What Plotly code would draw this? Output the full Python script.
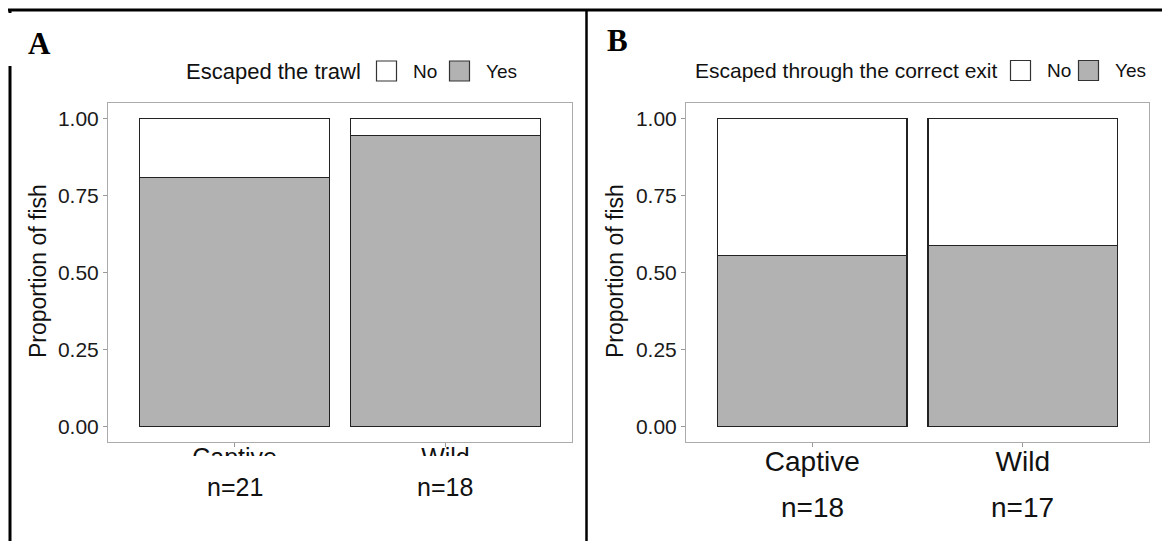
import plotly.graph_objects as go

# Stacked proportion bars: fish that escaped (Yes) / did not (No), by origin
groups = ["Captive", "Wild"]

# Panel A: escaped the trawl
trawl_yes = [17, 17]
trawl_n = [21, 18]

# Panel B: escaped through the correct exit
exit_yes = [10, 10]
exit_n = [18, 17]

y_ticks = [0.0, 0.25, 0.5, 0.75, 1.0]

W, H = 1162, 541
FONT = "Liberation Sans, Arial, sans-serif"
SERIF = "Liberation Serif, Times New Roman, serif"
YES_FILL = "#b2b2b2"
NO_FILL = "#ffffff"
EDGE = "#222222"
FRAME = "#ababab"


def px(x):
    return x / W


def py(y):
    return 1 - y / H


def split(yes, n):
    share_yes = [a / b for a, b in zip(yes, n)]
    share_no = [(b - a) / b for a, b in zip(yes, n)]
    return share_yes, share_no


fig = go.Figure()

panels = [
    ("x", "y", trawl_yes, trawl_n),
    ("x2", "y2", exit_yes, exit_n),
]
for xa, ya, yes, n in panels:
    share_yes, share_no = split(yes, n)
    fig.add_trace(go.Bar(x=groups, y=share_yes, name="Yes", width=0.9,
                         marker=dict(color=YES_FILL, line=dict(color=EDGE, width=1.2)),
                         xaxis=xa, yaxis=ya, showlegend=False))
    fig.add_trace(go.Bar(x=groups, y=share_no, name="No", width=0.9,
                         marker=dict(color=NO_FILL, line=dict(color=EDGE, width=1.2)),
                         xaxis=xa, yaxis=ya, showlegend=False))

plot_top, plot_bottom = 103, 442

common_x = dict(type="category", categoryorder="array", categoryarray=groups,
                range=[-0.6, 1.6], showline=True, mirror=True, linecolor=FRAME,
                linewidth=1, ticks="outside", ticklen=4, tickcolor="#999999",
                showgrid=False, zeroline=False)
common_y = dict(range=[-0.05, 1.05], tickvals=y_ticks, tickformat=".2f",
                showline=True, mirror=True, linecolor=FRAME, linewidth=1,
                ticks="outside", ticklen=4, tickcolor="#999999",
                showgrid=False, zeroline=False,
                tickfont=dict(family=FONT, size=21, color="#1a1a1a"))

fig.update_layout(
    width=W, height=H,
    margin=dict(l=0, r=0, t=0, b=0),
    paper_bgcolor="white", plot_bgcolor="white",
    barmode="stack", bargap=0.1,
    xaxis=dict(common_x, domain=[px(108), px(572)], anchor="y",
               tickfont=dict(family=FONT, size=25, color="#111111"),
               ticklabelstandoff=-11),
    yaxis=dict(common_y, domain=[py(plot_bottom), py(plot_top)], anchor="x"),
    xaxis2=dict(common_x, domain=[px(686), px(1149)], anchor="y2",
                tickfont=dict(family=FONT, size=28, color="#111111"),
                ticklabelstandoff=-10),
    yaxis2=dict(common_y, domain=[py(plot_bottom), py(plot_top)], anchor="x2"),
)

shapes = []
annotations = []

# Panel A category labels are partly hidden beneath the sample-size row
shapes.append(dict(type="rect", xref="paper", yref="paper", layer="above",
                   x0=px(100), x1=px(580), y0=py(475), y1=py(456),
                   fillcolor="white", line=dict(width=0)))

# Figure frame lines
frame = dict(color="black", width=3)
shapes.append(dict(type="line", xref="paper", yref="paper", layer="above",
                   x0=px(8), x1=px(1162), y0=py(10), y1=py(10), line=frame))
shapes.append(dict(type="line", xref="paper", yref="paper", layer="above",
                   x0=px(10), x1=px(10), y0=py(66), y1=py(541), line=frame))
shapes.append(dict(type="line", xref="paper", yref="paper", layer="above",
                   x0=px(10), x1=px(10), y0=py(9), y1=py(13), line=frame))
shapes.append(dict(type="line", xref="paper", yref="paper", layer="above",
                   x0=px(586.5), x1=px(586.5), y0=py(10), y1=py(541),
                   line=dict(color="black", width=2.5)))


def legend(title, title_right, box_no, box_yes, yc, title_size, label_size):
    annotations.append(dict(text=title, xref="paper", yref="paper",
                            x=px(title_right), y=py(yc), xanchor="right",
                            yanchor="middle", showarrow=False,
                            font=dict(family=FONT, size=title_size, color="#111111")))
    for x0, fill, label in [(box_no, NO_FILL, "No"), (box_yes, YES_FILL, "Yes")]:
        shapes.append(dict(type="rect", xref="paper", yref="paper", layer="above",
                           x0=px(x0), x1=px(x0 + 20), y0=py(yc + 10), y1=py(yc - 10),
                           fillcolor=fill, line=dict(color="#333333", width=1.2)))
        annotations.append(dict(text=label, xref="paper", yref="paper",
                                x=px(x0 + 34), y=py(yc), xanchor="left",
                                yanchor="middle", showarrow=False,
                                font=dict(family=FONT, size=label_size, color="#111111")))


legend("Escaped the trawl", 363, 376.5, 449.5, 71, 22, 19)
legend("Escaped through the correct exit", 1000, 1010.5, 1078.5, 70.5, 21, 19)

# Panel letters
for letter, xc, yc in [("A", 40, 43), ("B", 617, 41)]:
    annotations.append(dict(text=f"<b>{letter}</b>", xref="paper", yref="paper",
                            x=px(xc), y=py(yc), xanchor="center", yanchor="middle",
                            showarrow=False,
                            font=dict(family=SERIF, size=31, color="black")))

# Y axis titles
for xc in (38, 615):
    annotations.append(dict(text="Proportion of fish", xref="paper", yref="paper",
                            x=px(xc), y=py(271), xanchor="center", yanchor="middle",
                            textangle=-90, showarrow=False,
                            font=dict(family=FONT, size=23, color="#111111")))

# Sample sizes under each group
for xa, n, yc, size in [("x", trawl_n, 487, 25), ("x2", exit_n, 507, 28)]:
    for g, count in zip(groups, n):
        annotations.append(dict(text=f"n={count}", xref=xa, yref="paper",
                                x=g, y=py(yc), xanchor="center", yanchor="middle",
                                showarrow=False,
                                font=dict(family=FONT, size=size, color="#111111")))

fig.update_layout(shapes=shapes, annotations=annotations)

fig.write_html("out.html")
